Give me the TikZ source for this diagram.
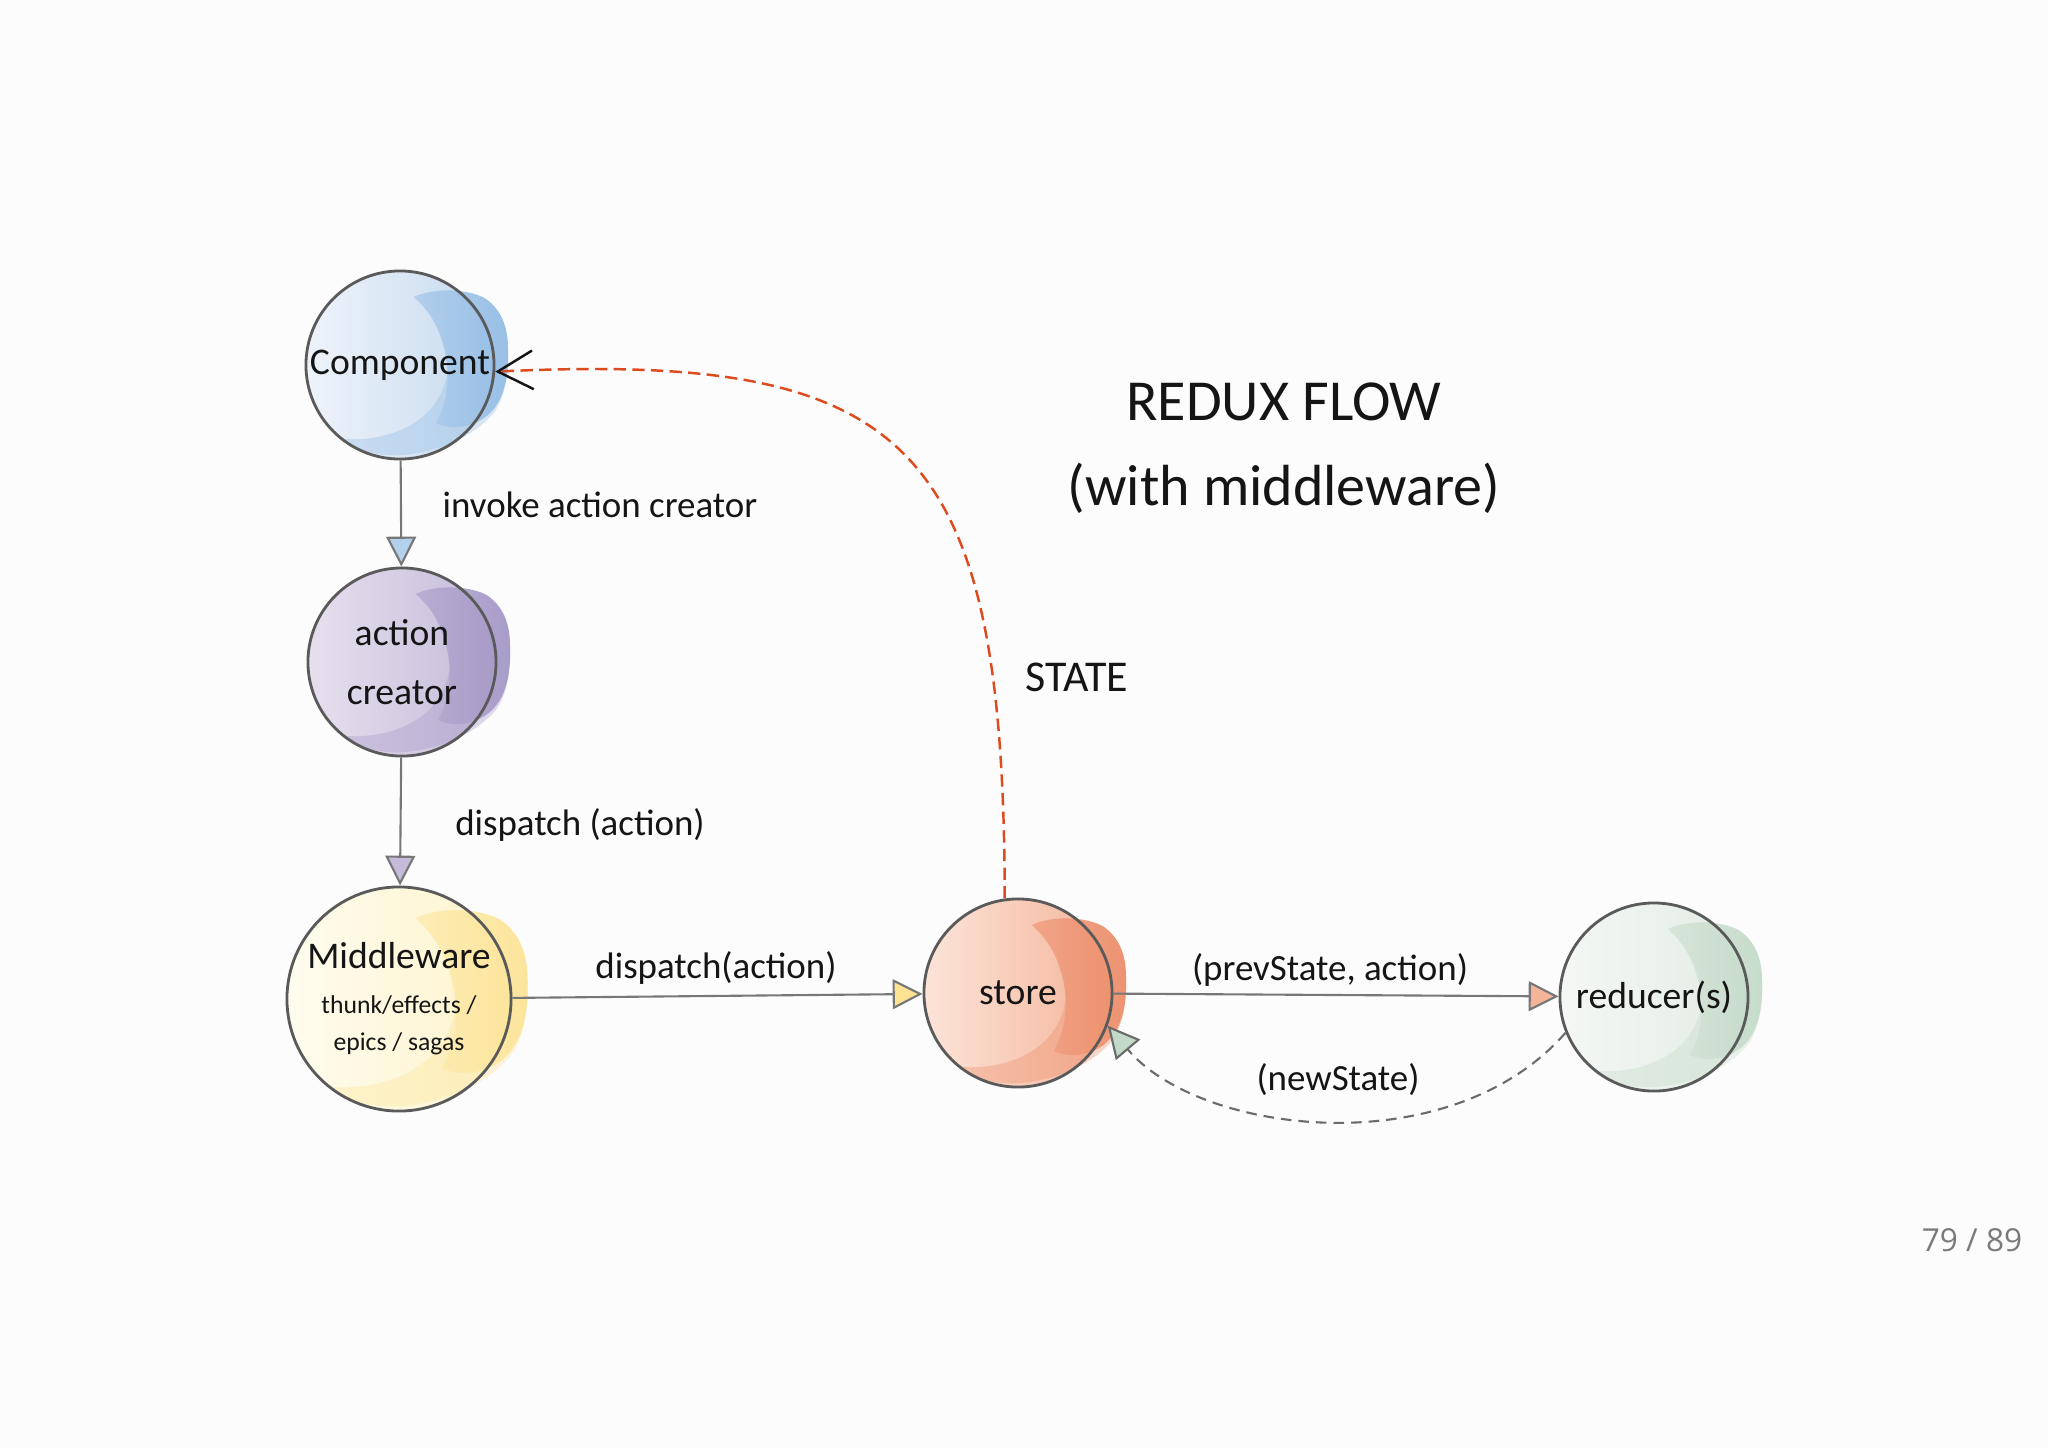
\documentclass[tikz,border=0pt]{standalone}
\usepackage{fontspec}
\setmainfont{Carlito}
\newfontfamily\numfont{Open Sans}
\usetikzlibrary{arrows.meta,positioning,backgrounds}
\definecolor{ink}{HTML}{151515}
\definecolor{rim}{HTML}{5A5A5A}
\definecolor{wire}{HTML}{777777}
\definecolor{hot}{HTML}{DC4A1E}
\definecolor{paper}{HTML}{FCFCFC}
\definecolor{pgnum}{HTML}{7A7A7A}
\definecolor{cmpA}{HTML}{EEF3FA}\definecolor{cmpB}{HTML}{C6DAEF}\definecolor{cmpC}{HTML}{92BCE5}
\definecolor{actA}{HTML}{E6E0EE}\definecolor{actB}{HTML}{C4BAD9}\definecolor{actC}{HTML}{A397C6}
\definecolor{mwA}{HTML}{FFFCEE}\definecolor{mwB}{HTML}{FDF3CC}\definecolor{mwC}{HTML}{FCE394}
\definecolor{stoA}{HTML}{FCE4D8}\definecolor{stoB}{HTML}{F4B49A}\definecolor{stoC}{HTML}{EC8C68}
\definecolor{rdcA}{HTML}{F4F7F4}\definecolor{rdcB}{HTML}{E3ECE5}\definecolor{rdcC}{HTML}{C3DAC8}
\newcommand\smallhand{\fontsize{7.3}{10.5}\selectfont}
% colour wash behind a ball: node, scale, light, mid, blob
\newcommand\wash[5]{%
  \shade[left color=#3,right color=#4] (#1.center) circle[radius=#2*0.94cm];
  \begin{scope}[shift={(#1.center)},scale=#2]
    \fill[#5,opacity=.35]
      (14,-68) .. controls (35,-78) and (70,-76) .. (86,-66)
      .. controls (100,-56) and (108,-40) .. (108,-16)
      .. controls (109,12) and (104,36) .. (92,50)
      .. controls (72,72) and (40,86) .. (4,90)
      .. controls (-22,92) and (-44,86) .. (-56,74)
      .. controls (-22,76) and (14,66) .. (34,40)
      .. controls (50,18) and (52,-8) .. (42,-30)
      .. controls (34,-48) and (22,-60) .. cycle;
    \shade[left color=#5!40!#4,right color=#5,opacity=.9]
      (14,-68) .. controls (35,-78) and (70,-76) .. (86,-66)
      .. controls (100,-56) and (108,-40) .. (108,-16)
      .. controls (109,12) and (104,34) .. (90,48)
      .. controls (76,62) and (52,66) .. (36,58)
      .. controls (48,36) and (52,6) .. (42,-24)
      .. controls (36,-44) and (24,-60) .. cycle;
  \end{scope}}
\tikzset{
  ball/.style={circle,draw=rim,line width=.8pt,minimum size=#1,inner sep=0pt,align=center,
               font=\fontsize{10.7}{16.8}\selectfont,text=ink},
  lbl/.style ={font=\fontsize{10.5}{12}\selectfont,text=ink},
  ttl/.style ={font=\fontsize{16.5}{24}\selectfont,text=ink,align=center},
  a/.style   ={-{Triangle[length=8.5pt,width=8.5pt,fill=#1]},draw=wire,line width=.6pt},
  ad/.style  ={-{Triangle[length=9pt,width=9pt,fill=#1]},draw=wire!90!black,line width=.6pt,
               dash pattern=on 3pt off 2pt},
  hotd/.style={-{Straight Barb[length=10pt,width=11pt,color=ink]},draw=hot,line width=.7pt,
               dash pattern=on 3.5pt off 1.8pt},
}
\begin{document}
\begin{tikzpicture}[x=0.01cm,y=-0.01cm]
\useasboundingbox (0,0) rectangle (2048,1448);
% ===== balls =====
\node[ball=1.88cm] (cmp) at (400,365) {Component};
\node[ball=1.88cm] (act) at (402,662) {action\\creator};
\node[ball=2.24cm] (mw) at (399,999) {Middleware\\[-4pt]{\smallhand thunk/effects /}\\[-6.3pt]{\smallhand epics / sagas}};
\node[ball=1.88cm] (sto) at (1018,993) {store};
\node[ball=1.88cm] (rdc) at (1654,997) {reducer(s)};

% ===== washes =====
\begin{scope}[on background layer]
  \fill[paper] (0,0) rectangle (2048,1448);
  \wash{cmp}{1}{cmpA}{cmpB}{cmpC}
  \wash{act}{1}{actA}{actB}{actC}
  \wash{mw}{1.19}{mwA}{mwB}{mwC}
  \wash{sto}{1}{stoA}{stoB}{stoC}
  \wash{rdc}{1}{rdcA}{rdcB}{rdcC}
\end{scope}

% ===== flow =====
\draw[a=cmpC!70] (cmp) -- (act);
\draw[a=actB] (act) -- (mw);
\draw[a=mwC] (mw) -- (sto);
\draw[a=stoB] (sto) -- (rdc);
\draw[ad=rdcC] (rdc.202) .. controls (1450,1165) and (1200,1135) .. (sto.340);
\draw[hotd] (sto.98) .. controls (1004,440) and (910,352) .. (cmp.-4);

% ===== labels =====
\node[lbl] (l1) at (600,505) {invoke action creator};
\node[lbl] (l2) at (580,825) {dispatch (action)};
\node[lbl] (l3) at (716,968) {dispatch(action)};
\node[lbl] (l4) at (1330,970) {(prevState, action)};
\node[lbl] (l5) at (1338,1080) {(newState)};
\node[lbl,font=\fontsize{12.5}{14}\selectfont] (l6) at (1077,677) {STATE};
\node[ttl] (ttl) at (1284,448) {REDUX FLOW\\(with middleware)};
\node[font=\numfont\fontsize{9}{10}\selectfont,text=pgnum] (pg) at (1972,1240) {79 / 89};
\end{tikzpicture}
\end{document}
